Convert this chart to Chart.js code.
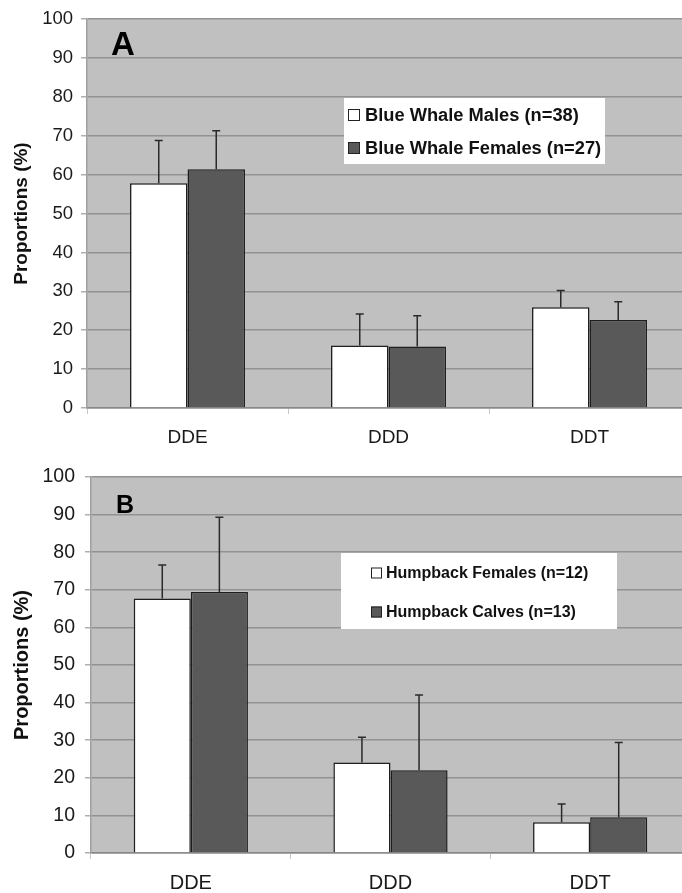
<!DOCTYPE html>
<html>
<head>
<meta charset="utf-8">
<script src="https://cdn.jsdelivr.net/npm/chart.js@4.4.1/dist/chart.umd.min.js"></script>
<style>
  body { margin: 0; background: #fff; overflow: hidden; width: 682px; height: 893px; position: relative; }
  canvas { position: absolute; left: 0; }
  #chartA { top: 0; }
  #chartB { top: 450px; }
</style>
</head>
<body>
<canvas id="chartA" width="700" height="450"></canvas>
<canvas id="chartB" width="700" height="443"></canvas>
<script>
const compounds = ['DDE', 'DDD', 'DDT'];
const yTicks = [0, 10, 20, 30, 40, 50, 60, 70, 80, 90, 100];

// panel A
const blueMalesLabel = 'Blue Whale Males (n=38)';
const blueMales = [57.8, 16.1, 25.9];
const blueMalesSD = [11.0, 8.1, 4.3];
const blueFemalesLabel = 'Blue Whale Females (n=27)';
const blueFemales = [61.4, 15.8, 22.6];
const blueFemalesSD = [9.9, 7.9, 4.7];

// panel B
const humpFemalesLabel = 'Humpback Females (n=12)';
const humpFemales = [67.7, 24.1, 8.2];
const humpFemalesSD = [8.9, 6.7, 4.8];
const humpCalvesLabel = 'Humpback Calves (n=13)';
const humpCalves = [69.4, 22.0, 9.5];
const humpCalvesSD = [19.9, 20.0, 19.9];

const FONT = "'Liberation Sans', Arial, sans-serif";
const LIGHT = '#ffffff';
const DARK = '#595959';

// gray plot background
const plotBg = {
  id: 'plotBg',
  beforeDraw(chart) {
    const { ctx, chartArea: a } = chart;
    ctx.save();
    ctx.fillStyle = '#c0c0c0';
    ctx.fillRect(a.left, a.top, a.right - a.left, a.bottom - a.top);
    ctx.restore();
  }
};

// upper error bars only, from each bar top
const errorBars = {
  id: 'errorBars',
  afterDatasetsDraw(chart) {
    const { ctx } = chart;
    const y = chart.scales.y;
    ctx.save();
    ctx.strokeStyle = '#2a2a2a';
    ctx.lineWidth = 1.5;
    chart.data.datasets.forEach((ds, i) => {
      const meta = chart.getDatasetMeta(i);
      meta.data.forEach((bar, j) => {
        const top = y.getPixelForValue(ds.data[j] + ds.sd[j]);
        ctx.beginPath();
        ctx.moveTo(bar.x, bar.y);
        ctx.lineTo(bar.x, top);
        ctx.moveTo(bar.x - 4, top);
        ctx.lineTo(bar.x + 4, top);
        ctx.stroke();
      });
    });
    ctx.restore();
  }
};

// boxed legend and panel letter inside plot
const panelDeco = {
  id: 'panelDeco',
  afterDraw(chart, args, opts) {
    const { ctx } = chart;
    ctx.save();
    ctx.fillStyle = '#000';
    ctx.font = `bold ${opts.letterSize}px ${FONT}`;
    ctx.textBaseline = 'middle';
    ctx.textAlign = 'left';
    ctx.fillText(opts.letter, opts.letterX, opts.letterY);

    const b = opts.box;
    ctx.fillStyle = '#fff';
    ctx.fillRect(b.x, b.y, b.w, b.h);
    ctx.font = `bold ${opts.fontSize}px ${FONT}`;
    chart.data.datasets.forEach((ds, i) => {
      const cy = opts.rows[i];
      ctx.fillStyle = ds.backgroundColor;
      ctx.fillRect(opts.swX, cy - opts.sw / 2, opts.sw, opts.sw);
      ctx.strokeStyle = '#222';
      ctx.lineWidth = 1;
      ctx.strokeRect(opts.swX + 0.5, cy - opts.sw / 2 + 0.5, opts.sw - 1, opts.sw - 1);
      ctx.fillStyle = '#111';
      ctx.fillText(ds.label, opts.textX, cy + 1);
    });
    ctx.restore();
  }
};

function makeChart(id, labels, sets, cfg) {
  return new Chart(document.getElementById(id), {
    type: 'bar',
    data: {
      labels: compounds,
      datasets: sets.map((s, i) => ({
        label: labels[i],
        data: s.data,
        sd: s.sd,
        backgroundColor: i === 0 ? LIGHT : DARK,
        borderColor: '#1e1e1e',
        borderWidth: 1.5,
        barPercentage: 1,
        categoryPercentage: 0.572
      }))
    },
    options: {
      responsive: false,
      animation: false,
      layout: { padding: { top: cfg.padTop, right: 10, left: 0, bottom: 0 } },
      plugins: {
        legend: { display: false },
        tooltip: { enabled: false },
        panelDeco: cfg.deco
      },
      scales: {
        x: {
          offset: true,
          afterFit: (s) => { s.height = cfg.xHeight; },
          grid: { offset: true, drawOnChartArea: false, drawTicks: true, tickLength: 6, tickColor: '#c8c8c8' },
          border: { color: '#888', width: 1.5 },
          ticks: { color: '#1a1a1a', padding: 12, font: { family: FONT, size: cfg.xFont } }
        },
        y: {
          min: 0,
          max: 100,
          afterFit: (s) => { s.width = cfg.yWidth; },
          afterBuildTicks: (s) => { s.ticks = yTicks.map(v => ({ value: v })); },
          grid: { color: '#929292', lineWidth: 1.5, tickLength: 6, tickColor: '#b0b0b0' },
          border: { color: '#a0a0a0', width: 1.5 },
          ticks: { color: '#1a1a1a', padding: cfg.yPad, font: { family: FONT, size: cfg.yFont } },
          title: {
            display: true,
            text: 'Proportions (%)',
            color: '#111',
            padding: { top: 10, bottom: 0 },
            font: { family: FONT, size: cfg.titleFont, weight: 'bold' }
          }
        }
      }
    },
    plugins: [plotBg, errorBars, panelDeco]
  });
}

makeChart('chartA', [blueMalesLabel, blueFemalesLabel],
  [{ data: blueMales, sd: blueMalesSD }, { data: blueFemales, sd: blueFemalesSD }],
  {
    padTop: 16, xHeight: 42, yWidth: 87, yPad: 8, xFont: 19, yFont: 18.5, titleFont: 19,
    deco: {
      letter: 'A', letterSize: 33, letterX: 111, letterY: 46,
      box: { x: 344, y: 98, w: 261, h: 66 },
      fontSize: 18.3, sw: 12, swX: 348, textX: 365, rows: [115, 148]
    }
  });

makeChart('chartB', [humpFemalesLabel, humpCalvesLabel],
  [{ data: humpFemales, sd: humpFemalesSD }, { data: humpCalves, sd: humpCalvesSD }],
  {
    padTop: 27, xHeight: 40, yWidth: 91, yPad: 10, xFont: 20, yFont: 19.5, titleFont: 20,
    deco: {
      letter: 'B', letterSize: 25, letterX: 116, letterY: 56,
      box: { x: 341, y: 103, w: 276, h: 76 },
      fontSize: 16, sw: 11, swX: 371, textX: 386, rows: [123, 162]
    }
  });
</script>
</body>
</html>
